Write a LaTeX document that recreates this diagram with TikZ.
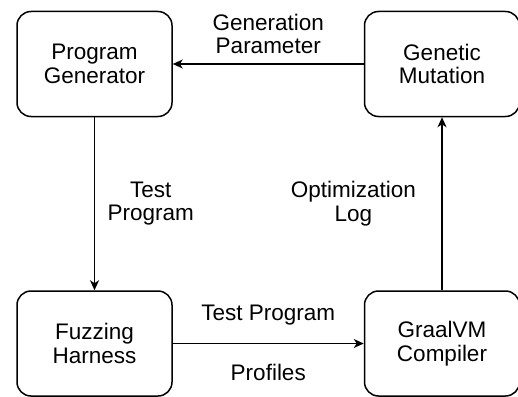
\documentclass[tikz,border=0pt]{standalone}
\usepackage{fontspec}
\setmainfont{Liberation Sans}
\usetikzlibrary{positioning,arrows.meta}

\begin{document}
\begin{tikzpicture}[
    font=\fontsize{22.5}{23.5}\selectfont,
    box/.style={draw=black, line width=1.5pt, rounded corners=14pt, minimum width=155pt, minimum height=105pt, align=center, text=black},
    arr/.style={-{Stealth[length=10pt, width=9pt, inset=3pt]}, draw=black, line width=1.5pt},
    lbl/.style={align=center, text=black}
  ]
    \useasboundingbox (0,0) rectangle (518pt,-396pt);
    \node[box] (pgen) at (94.5pt,-64pt) {Program\\Generator};
    \node[box, right=191pt of pgen] (gmut) {Genetic\\Mutation};
    \node[box, below=173pt of pgen] (fuzz) {Fuzzing\\Harness};
    \node[box, below=173pt of gmut] (graal) {GraalVM\\Compiler};
    \draw[arr] (gmut) -- node[lbl, above=6pt] {Generation\\Parameter} (pgen);
    \draw[arr] (pgen) -- node[lbl, right=9pt] {Test\\Program} (fuzz);
    \draw[arr] (fuzz) -- node[lbl, above=14pt] {Test Program} node[lbl, below=17pt] {Profiles} (graal);
    \draw[arr] (graal) -- node[lbl, left=22pt] {Optimization\\Log} (gmut);
  \end{tikzpicture}
\end{document}
